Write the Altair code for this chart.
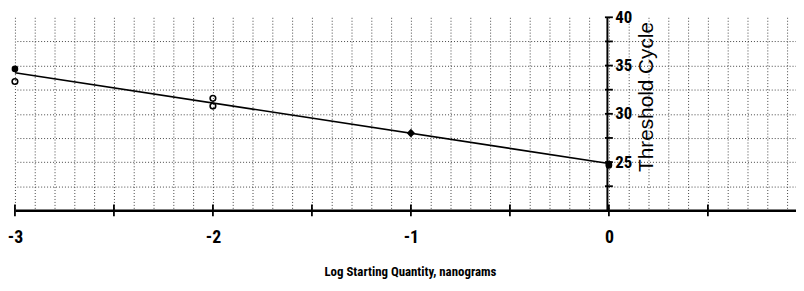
import altair as alt
import numpy as np
import pandas as pd

# ---- data ----
log_qty = [-3, -3, -2, -2, -1, -1, 0, 0]
ct = [34.65, 33.35, 31.6, 30.8, 28.05, 27.95, 24.8, 24.65]
marker = ["filled", "open", "open", "open", "diamond", "diamond", "filled", "filled"]

fit_x = [-3, 0]
fit_y = [34.25, 24.85]

x_labels = [-3, -2, -1, 0]
y_labels = [25, 30, 35, 40]
x_tick_vals = [-3, -2.5, -2, -1.5, -1, -0.5, 0, 0.5]
y_tick_vals = [22.5, 25, 27.5, 30, 32.5, 35, 37.5, 40]

X_DOMAIN = [-3, 0.945]
Y_DOMAIN = [20, 40]

x_grid = [round(v, 1) for v in np.arange(-3.0, 0.95, 0.1)]
y_grid = [20, 22.5, 25, 27.5, 30, 32.5, 35, 37.5, 40]

pts = pd.DataFrame({"x": log_qty, "y": ct, "m": marker})
fit = pd.DataFrame({"x": fit_x, "y": fit_y})
xt = pd.DataFrame({"x": x_tick_vals, "y": [20] * len(x_tick_vals)})
yt = pd.DataFrame({"x": [0] * len(y_tick_vals), "y": y_tick_vals})

LABEL_FONT = "Roboto Condensed, Roboto, Liberation Sans, sans-serif"

xscale = alt.Scale(domain=X_DOMAIN, nice=False, zero=False)
yscale = alt.Scale(domain=Y_DOMAIN, nice=False, zero=False)

x_axis = alt.Axis(
    values=x_grid,
    grid=True,
    gridColor="#444444",
    gridDash=[1, 2],
    gridWidth=1,
    ticks=False,
    tickSize=0,
    domain=True,
    domainColor="black",
    domainWidth=2.5,
    labelExpr="abs(datum.value - round(datum.value)) < 0.001 && datum.value <= 0 ? toString(round(datum.value)) : ''",
    labelFont=LABEL_FONT,
    labelFontSize=18,
    labelFontWeight="bold",
    labelColor="black",
    labelPadding=19,
    labelFlush=False,
    labelOverlap=False,
    title="Log Starting Quantity, nanograms",
    titleFont=LABEL_FONT,
    titleFontSize=13,
    titleFontWeight="bold",
    titleColor="black",
    titleX=399,
    titleY=62,
    titleAlign="center",
    titleBaseline="middle",
)

y_axis = alt.Axis(
    orient="right",
    offset=-191,
    values=y_grid,
    grid=True,
    gridColor="#444444",
    gridDash=[1, 2],
    gridWidth=1,
    gridOpacity=alt.condition("datum.value == 40", alt.value(0), alt.value(1)),
    ticks=False,
    tickSize=0,
    domain=True,
    domainColor="black",
    domainWidth=2,
    labelExpr="datum.value % 5 == 0 && datum.value > 20 ? toString(datum.value) : ''",
    labelFont=LABEL_FONT,
    labelFontSize=17,
    labelFontWeight="bold",
    labelColor="black",
    labelPadding=8,
    labelAlign="left",
    labelBaseline="middle",
    labelFlush=False,
    labelOverlap=False,
    title="Threshold Cycle",
    titleFont="Liberation Sans, Arial, sans-serif",
    titleFontSize=21,
    titleFontWeight="normal",
    titleColor="black",
    titleAngle=270,
    titleX=40,
    titleY=80,
    titleAlign="center",
    titleBaseline="middle",
)

X = alt.X("x:Q", scale=xscale, axis=x_axis)
Y = alt.Y("y:Q", scale=yscale, axis=y_axis)

base_line = alt.Chart(fit).mark_line(color="black", strokeWidth=1.6).encode(x=X, y=Y)

xticks = alt.Chart(xt).mark_point(
    shape="M0,-1L0,1", size=144, filled=False, color="black", strokeWidth=1.8, opacity=1
).encode(x=X, y=Y)

yticks = alt.Chart(yt).mark_point(
    shape="M-1,0L1,0", size=64, filled=False, color="black", strokeWidth=1.8, opacity=1
).encode(x=X, y=Y)

filled_pts = alt.Chart(pts).transform_filter("datum.m == 'filled'").mark_point(
    shape="circle", size=45, filled=True, color="black", opacity=1
).encode(x=X, y=Y)

open_pts = alt.Chart(pts).transform_filter("datum.m == 'open'").mark_point(
    shape="circle", size=32, filled=False, color="black", strokeWidth=1.6, opacity=1
).encode(x=X, y=Y)

diamond_pts = alt.Chart(pts).transform_filter("datum.m == 'diamond'").mark_point(
    shape="diamond", size=60, filled=True, color="black", opacity=1
).encode(x=X, y=Y)

chart = alt.layer(base_line, xticks, yticks, open_pts, filled_pts, diamond_pts).properties(
    width=789,
    height=195,
    autosize=alt.AutoSizeParams(type="none"),
    padding={"left": 7, "top": 8, "right": 0, "bottom": 70},
    background="white",
).configure_view(stroke=None)

chart.save("out.html", embed_options={"renderer": "svg", "actions": False})
